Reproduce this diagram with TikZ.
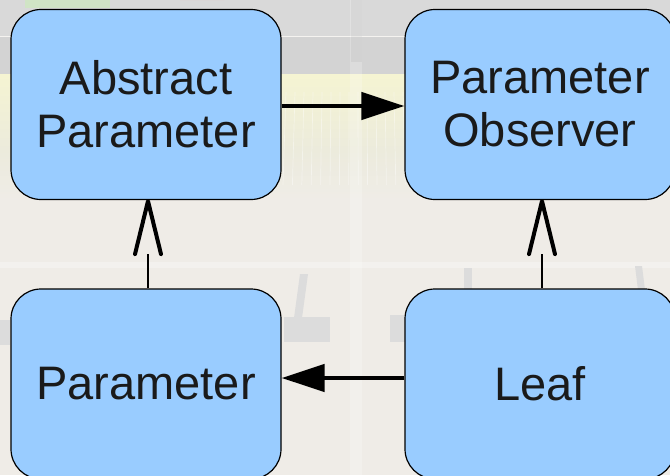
\documentclass[tikz,border=0pt]{standalone}
\usepackage{fontspec}
\setmainfont{Liberation Sans}
\usetikzlibrary{arrows.meta}

\definecolor{boxblue}{HTML}{99CCFF}
\definecolor{textdark}{HTML}{1A1A1A}
\definecolor{bgbeige}{HTML}{EFECE7}
\definecolor{bggray}{HTML}{D9D9D9}
\definecolor{bggraydark}{HTML}{D3D3D3}
\definecolor{bgyellow}{HTML}{F5F4D2}
\definecolor{bgpale}{HTML}{ECEBDC}
\definecolor{bgshape}{HTML}{DCDCDC}

\begin{document}
\begin{tikzpicture}[x=1pt,y=-1pt,
  cls/.style={draw=black, line width=1.2pt, fill=boxblue, rounded corners=30pt,
    minimum width=270pt, minimum height=190pt, inner sep=0pt, align=center,
    font=\fontsize{47}{53}\selectfont, text=textdark},
  assoc/.style={line width=4.5pt, -{Triangle[length=43pt,width=27pt]}},
  shaft/.style={line width=2.5pt},
  vtip/.style={line width=4pt, line cap=round, line join=round}]

  % backdrop: blurred workshop photo
  \fill[bgbeige] (0,0) rectangle (670,475);
  \useasboundingbox (0,0) rectangle (670,475);
  \fill[bggray] (0,0) rectangle (670,36);
  \fill[bggraydark] (0,37) rectangle (670,74);
  \draw[white, opacity=.4, line width=1pt] (0,36.5) -- (670,36.5);
  \shade[top color=bgyellow, bottom color=bgpale] (0,74) rectangle (670,150);
  \shade[top color=bgpale, bottom color=bgbeige] (0,150) rectangle (670,200);
  \foreach \i in {0,...,13}
    \draw[white, opacity=.4, line width=.7pt] (286+\i*9,92) -- (283+\i*9.4,185);
  \fill[white, opacity=.22] (350,0) rectangle (362,475);
  \fill[gray, opacity=.1] (351,0) rectangle (362,62);
  \fill[white, opacity=.3] (0,262) rectangle (670,268);
  \fill[bgshape] (300,274) -- (308,274) -- (302,318) -- (294,318) -- cycle;
  \fill[bgshape] (284,317) rectangle (330,342);
  \fill[bgshape] (390,315) rectangle (405,342);
  \fill[bgshape] (464,268) rectangle (472,290);
  \fill[bgshape] (635,266) -- (642,266) -- (645,290) -- (638,290) -- cycle;
  \fill[bgshape] (0,320) rectangle (10,345);
  \fill[red!40, opacity=.3] (180,0) arc[start angle=180, end angle=360, x radius=22pt, y radius=-6pt] -- cycle;
  \fill[bgyellow!80!green, opacity=.4] (25,0) rectangle (110,8);

  % classes
  \node[cls] (abs) at (146,104.5) {Abstract\\Parameter};
  \node[cls] (obs) at (540,104.5) {Parameter\\Observer};
  \node[cls] (par) at (146,384) {Parameter};
  \node[cls] (leaf) at (540,384) {Leaf};

  % associations
  \draw[assoc] ([yshift=-1.5pt]abs.east) -- ([yshift=-1.5pt]obs.west);
  \draw[assoc] ([yshift=6pt]leaf.west) -- ([yshift=6pt]par.west -| par.east);

  % generalisations: shaft plus open tip
  \draw[shaft] ([xshift=2pt]par.north) -- ([xshift=2pt,yshift=34pt]par.north);
  \draw[vtip] ([xshift=-11pt,yshift=-54pt]abs.south) -- ([xshift=2pt,yshift=-1pt]abs.south)
    -- ([xshift=15pt,yshift=-54pt]abs.south);
  \draw[shaft] ([xshift=2pt]leaf.north) -- ([xshift=2pt,yshift=34pt]leaf.north);
  \draw[vtip] ([xshift=-11pt,yshift=-54pt]obs.south) -- ([xshift=2pt,yshift=-1pt]obs.south)
    -- ([xshift=15pt,yshift=-54pt]obs.south);
\end{tikzpicture}
\end{document}
